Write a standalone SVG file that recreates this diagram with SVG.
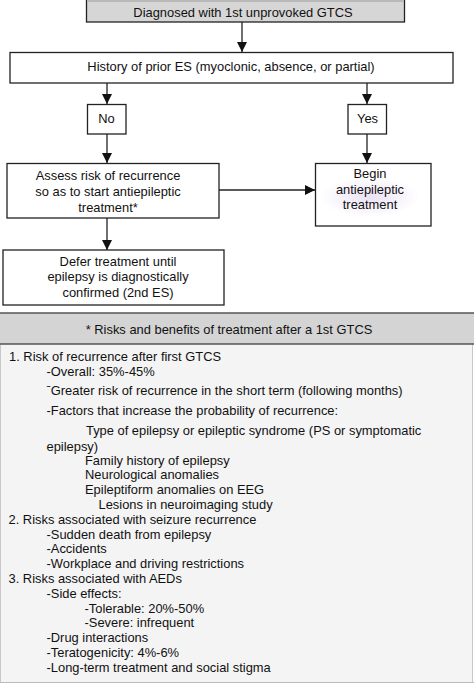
<svg xmlns="http://www.w3.org/2000/svg" width="474" height="685" viewBox="0 0 474 685">
<style>
text{font-family:"Liberation Sans",Arial,sans-serif;font-size:12.9px;fill:#111}
.c{text-anchor:middle}
.box{fill:#fff;stroke:#222;stroke-width:1.3}
.conn line{stroke:#222;stroke-width:1.3}
</style>
<defs>
<marker id="ah" viewBox="0 0 10 10" refX="10" refY="5" markerWidth="10" markerHeight="10" markerUnits="userSpaceOnUse" orient="auto">
<path d="M0,0 L10,5 L0,10 z" fill="#111"/>
</marker>
<radialGradient id="glow" cx="0.5" cy="0.5" r="0.5">
<stop offset="0" stop-color="#d9c8ec" stop-opacity="0.55"/>
<stop offset="1" stop-color="#d9c8ec" stop-opacity="0"/>
</radialGradient>
</defs>
<rect width="474" height="685" fill="#fff"/>

<g id="n-diagnosed">
<rect x="86.5" y="-1" width="318" height="23" fill="#d6d6d6" stroke="#222" stroke-width="1.3"/>
<rect x="87" y="0" width="317" height="2" fill="#b8b8b8"/>
<text class="c" x="243" y="17">Diagnosed with 1st unprovoked GTCS</text>
</g>
<g id="n-history">
<rect class="box" x="10" y="52.5" width="443" height="30.5"/>
<text class="c" x="231" y="71">History of prior ES (myoclonic, absence, or partial)</text>
</g>
<g id="n-no">
<rect class="box" x="87.5" y="104.5" width="38.5" height="29.5"/>
<text class="c" x="106.5" y="123">No</text>
</g>
<g id="n-yes">
<rect class="box" x="348" y="104.5" width="38.5" height="29.5"/>
<text class="c" x="367.5" y="123">Yes</text>
</g>
<g id="n-assess">
<rect class="box" x="7" y="163.5" width="212" height="54.5"/>
<text class="c" x="108" y="180">Assess risk of recurrence</text>
<text class="c" x="108" y="195.5">so as to start antiepileptic</text>
<text class="c" x="108" y="211.5">treatment*</text>
</g>
<g id="n-begin">
<rect class="box" x="315.5" y="163.5" width="115.5" height="62.5"/>
<ellipse cx="370" cy="197" rx="50" ry="20" fill="url(#glow)"/>
<text class="c" x="370" y="178">Begin</text>
<text class="c" x="370" y="193.5">antiepileptic</text>
<text class="c" x="370" y="209">treatment</text>
</g>
<g id="n-defer">
<rect class="box" x="3" y="250" width="221" height="55"/>
<text class="c" x="118" y="266">Defer treatment until</text>
<text class="c" x="118" y="281">epilepsy is diagnostically</text>
<text class="c" x="118" y="297">confirmed (2nd ES)</text>
</g>

<g id="connectors" class="conn">
<line x1="242" y1="22" x2="242" y2="52" marker-end="url(#ah)"/>
<line x1="107" y1="83" x2="107" y2="104" marker-end="url(#ah)"/>
<line x1="367" y1="83" x2="367" y2="104" marker-end="url(#ah)"/>
<line x1="107" y1="134" x2="107" y2="163" marker-end="url(#ah)"/>
<line x1="367" y1="134" x2="367" y2="163" marker-end="url(#ah)"/>
<line x1="219" y1="190" x2="315" y2="190" marker-end="url(#ah)"/>
<line x1="107" y1="218" x2="107" y2="250" marker-end="url(#ah)"/>
</g>

<g id="n-risks">
<rect x="0.5" y="343.5" width="472" height="339" fill="#f4f4f4" stroke="#c8c8c8" stroke-width="1"/>
<rect x="-1" y="313" width="476" height="31" fill="#d4d4d4"/>
<line x1="0" y1="313" x2="474" y2="313" stroke="#555" stroke-width="1.6"/>
<line x1="0" y1="344" x2="474" y2="344" stroke="#555" stroke-width="1.6"/>
<line x1="0" y1="682.5" x2="474" y2="682.5" stroke="#bbb" stroke-width="1.2"/>
<text class="c" x="229" y="333.5">* Risks and benefits of treatment after a 1st GTCS</text>
<text x="9" y="361">1. Risk of recurrence after first GTCS</text>
<text x="46.5" y="375.5">-Overall: 35%-45%</text>
<text x="46.5" y="395">ˉGreater risk of recurrence in the short term (following months)</text>
<text x="46.5" y="414.5">-Factors that increase the probability of recurrence:</text>
<text x="86" y="434.5">Type of epilepsy or epileptic syndrome (PS or symptomatic</text>
<text x="46.5" y="451">epilepsy)</text>
<text x="85" y="465">Family history of epilepsy</text>
<text x="85" y="479">Neurological anomalies</text>
<text x="85" y="493.5">Epileptiform anomalies on EEG</text>
<text x="98.5" y="508.5">Lesions in neuroimaging study</text>
<text x="8.5" y="523.5">2. Risks associated with seizure recurrence</text>
<text x="46.5" y="538.5">-Sudden death from epilepsy</text>
<text x="46.5" y="553">-Accidents</text>
<text x="46.5" y="567.5">-Workplace and driving restrictions</text>
<text x="8.5" y="582.5">3. Risks associated with AEDs</text>
<text x="46.5" y="597.5">-Side effects:</text>
<text x="84.5" y="612.5">-Tolerable: 20%-50%</text>
<text x="84.5" y="627">-Severe: infrequent</text>
<text x="46.5" y="642">-Drug interactions</text>
<text x="46.5" y="656.5">-Teratogenicity: 4%-6%</text>
<text x="46.5" y="671.5">-Long-term treatment and social stigma</text>
</g>
</svg>
